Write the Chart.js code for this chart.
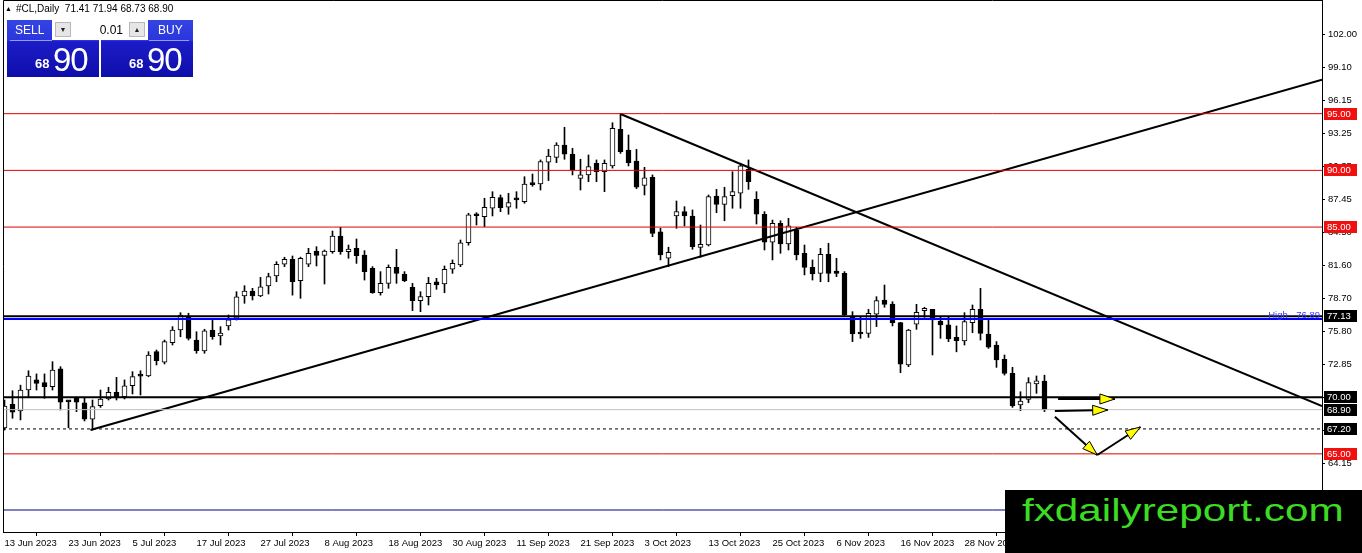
<!DOCTYPE html>
<html>
<head>
<meta charset="utf-8">
<script src="https://cdn.jsdelivr.net/npm/chart.js@4.4.1/dist/chart.umd.min.js"></script>
<style>
  body { margin: 0; background: #fff; font-family: "Liberation Sans", Arial, sans-serif; }
  #wrap { position: relative; width: 1362px; height: 553px; overflow: hidden; }
  #chart { position: absolute; left: 0; top: 0; }
  .hdr { position: absolute; left: 5px; top: 3px; font-size: 10px; color: #000; white-space: nowrap; }
  .hdr .tri { font-size: 7px; margin-right: 4px; vertical-align: 1px; }
  .btn { position: absolute; top: 20px; height: 57px; width: 92px; color: #fff;
         background: linear-gradient(#3444e4 0, #2a36dc 36%, #1c1cc8 38%, #0e0eaa 100%); }
  .btn .cap { position: absolute; top: 3px; font-size: 12px; }
  .btn .line { position: absolute; top: 20px; height: 1px; background: rgba(190,200,255,.7); }
  .btn .sm { position: absolute; top: 36px; font-size: 13px; font-weight: bold; }
  .btn .big { position: absolute; top: 21px; font-size: 33px; letter-spacing: -1px; }
  .lot { position: absolute; left: 52px; top: 20px; width: 96px; height: 20px; background: #fff; }
  .lot .arr { position: absolute; top: 2px; width: 16px; height: 15px; background: #e6e6e6;
              border: 1px solid #b8b8b8; box-sizing: border-box; font-size: 7px; text-align: center; line-height: 13px; color: #222; }
  .lot .val { position: absolute; right: 25px; top: 3px; font-size: 12px; color: #000; }
  .wm { position: absolute; left: 1005px; top: 490px; width: 357px; height: 63px; background: #000; }
  .wm span { position: absolute; left: 17px; top: 2px; font-size: 32px; color: #3ddc24;
             transform: scaleX(1.32); transform-origin: 0 0; white-space: nowrap; }
</style>
</head>
<body>
<div id="wrap">
  <canvas id="chart" width="1362" height="553"></canvas>
  <div class="hdr"><span class="tri">&#9650;</span>#CL,Daily&nbsp;&nbsp;71.41 71.94 68.73 68.90</div>
  <div class="btn" style="left:7px">
    <div class="cap" style="left:8px">SELL</div>
    <div class="line" style="left:3px;width:42px"></div>
    <div class="sm" style="left:28px">68</div>
    <div class="big" style="left:46px">90</div>
  </div>
  <div class="btn" style="left:101px">
    <div class="cap" style="left:57px">BUY</div>
    <div class="line" style="left:48px;width:40px"></div>
    <div class="sm" style="left:28px">68</div>
    <div class="big" style="left:46px">90</div>
  </div>
  <div class="lot">
    <div class="arr" style="left:3px">&#9660;</div>
    <div class="val">0.01</div>
    <div class="arr" style="right:3px">&#9650;</div>
  </div>
  <div class="wm"><span>fxdailyreport.com</span></div>
</div>
<script>
// daily candles, bar index 0 = 13 Jun 2023
const opens = [67.28, 69.37, 68.78, 70.63, 71.52, 71.28, 70.93, 72.49, 69.62, 69.99,
  69.51, 68.05, 69.25, 69.84, 70.43, 70.04, 71.01, 71.90, 71.87, 74.01,
  73.08, 74.80, 75.92, 77.16, 75.04, 74.07, 75.92, 75.40, 76.28, 76.96,
  78.92, 79.36, 78.92, 79.80, 80.69, 81.72, 82.16, 80.28, 81.72, 82.89,
  82.51, 82.83, 84.21, 82.83, 83.13, 82.54, 81.37, 79.21, 80.04, 81.45,
  80.86, 79.69, 78.51, 78.86, 80.18, 79.98, 81.28, 81.66, 83.62, 86.10,
  85.92, 86.66, 87.60, 86.75, 87.50, 87.24, 88.86, 88.80, 90.72, 91.15,
  92.24, 91.44, 89.30, 89.60, 90.63, 89.88, 90.39, 93.62, 91.80, 90.83,
  88.68, 89.39, 84.59, 82.25, 85.98, 86.36, 85.98, 83.21, 83.42, 87.74,
  87.00, 87.77, 87.98, 90.10, 87.45, 86.13, 83.66, 85.33, 83.51, 84.74,
  82.69, 81.45, 80.92, 82.60, 81.13, 80.92, 77.10, 75.70, 75.63, 77.31,
  78.57, 78.22, 76.57, 72.84, 76.43, 77.63, 77.75, 76.72, 76.37, 75.28,
  74.95, 76.57, 77.75, 75.57, 74.60, 73.34, 72.10, 69.31, 69.81, 71.16,
  71.41];
const highs = [69.75, 70.57, 71.06, 72.33, 72.05, 72.05, 73.13, 72.69, 69.70, 70.00,
  69.90, 69.75, 70.63, 70.87, 71.75, 71.52, 72.25, 72.33, 74.01, 74.16,
  75.04, 76.22, 77.45, 77.40, 75.77, 75.99, 76.81, 76.22, 77.25, 79.30,
  79.83, 79.60, 80.57, 80.93, 81.95, 82.34, 82.45, 82.35, 83.13, 83.27,
  82.98, 84.65, 84.98, 83.42, 83.95, 82.92, 81.51, 81.07, 81.66, 83.04,
  81.07, 80.04, 79.30, 80.57, 80.48, 81.57, 82.10, 83.86, 86.22, 86.27,
  87.54, 88.12, 87.83, 87.98, 88.12, 89.44, 89.68, 90.92, 91.86, 92.44,
  93.80, 91.95, 90.98, 91.36, 90.92, 90.92, 94.20, 95.03, 93.12, 91.86,
  90.27, 89.60, 84.89, 83.22, 87.30, 86.80, 86.51, 85.18, 87.83, 88.33,
  88.51, 89.88, 90.63, 90.92, 88.12, 86.36, 85.62, 85.56, 85.77, 84.98,
  83.42, 82.10, 83.13, 83.57, 82.25, 81.07, 77.54, 77.10, 77.75, 78.86,
  79.89, 78.42, 76.60, 75.98, 78.19, 77.93, 77.75, 77.10, 77.04, 76.28,
  77.45, 78.13, 79.60, 76.81, 74.90, 73.72, 72.63, 70.48, 71.72, 71.87,
  71.94];
const lows = [67.10, 68.14, 67.99, 70.04, 70.63, 69.90, 70.63, 68.87, 67.30, 68.72,
  67.90, 67.10, 69.10, 69.75, 69.75, 69.84, 70.28, 70.19, 71.80, 72.84,
  72.93, 74.60, 75.33, 75.04, 73.87, 73.87, 75.10, 74.60, 75.92, 76.80,
  78.28, 78.57, 78.86, 79.10, 80.18, 81.51, 79.00, 78.72, 81.51, 81.57,
  79.98, 82.69, 82.60, 82.25, 81.80, 80.33, 79.16, 79.00, 79.60, 80.04,
  80.18, 77.63, 77.54, 78.13, 79.51, 79.21, 80.92, 81.51, 83.40, 85.18,
  85.04, 85.98, 86.36, 86.13, 86.66, 87.10, 88.60, 88.27, 89.10, 90.68,
  90.98, 89.60, 88.27, 89.00, 89.00, 88.12, 90.20, 91.50, 90.39, 88.39,
  87.83, 84.15, 82.10, 81.51, 84.89, 85.10, 83.04, 82.34, 83.33, 86.27,
  85.56, 86.66, 86.66, 88.33, 85.27, 82.98, 82.10, 82.69, 82.98, 82.10,
  80.78, 80.33, 80.18, 80.18, 80.63, 77.10, 74.90, 75.19, 75.27, 76.22,
  77.93, 76.28, 72.16, 72.69, 75.98, 77.04, 73.72, 75.19, 74.90, 74.00,
  74.60, 75.69, 75.04, 74.31, 72.63, 71.95, 69.10, 68.81, 69.51, 70.34,
  68.73];
const closes = [69.22, 68.67, 70.63, 71.87, 71.22, 70.93, 72.40, 69.55, 69.58, 69.55,
  68.05, 69.16, 69.84, 70.43, 69.99, 71.01, 71.81, 71.85, 73.72, 73.22,
  74.90, 75.92, 77.25, 75.19, 74.10, 75.84, 75.33, 75.66, 76.81, 78.84,
  79.36, 78.92, 79.74, 80.63, 81.72, 82.16, 80.19, 82.25, 82.69, 82.51,
  82.89, 84.21, 82.83, 83.07, 82.48, 81.07, 79.21, 80.04, 81.45, 80.92,
  80.27, 78.51, 78.86, 80.04, 79.89, 81.28, 81.81, 83.62, 86.07, 86.00,
  86.75, 87.63, 86.71, 87.15, 87.40, 88.80, 88.74, 90.77, 91.27, 92.24,
  91.42, 90.03, 89.60, 90.33, 89.88, 90.63, 93.71, 91.65, 90.68, 88.51,
  89.35, 84.45, 82.54, 82.78, 86.36, 85.98, 83.27, 83.48, 87.68, 87.00,
  87.68, 88.12, 90.41, 89.00, 86.13, 83.66, 85.33, 83.51, 85.10, 82.54,
  81.45, 80.86, 82.60, 80.92, 80.92, 77.25, 75.57, 75.57, 77.40, 78.51,
  78.19, 76.57, 72.90, 75.92, 77.48, 77.84, 76.81, 76.37, 75.13, 74.98,
  76.66, 77.75, 75.63, 74.40, 73.28, 72.10, 69.22, 69.66, 71.28, 71.45,
  68.90];

// time axis labels (every 8th bar)
const dateTicks = [0, 8, 16, 24, 32, 40, 48, 56, 64, 72, 80, 88, 96, 104, 112, 120];
const dateLabels = ['13 Jun 2023', '23 Jun 2023', '5 Jul 2023', '17 Jul 2023', '27 Jul 2023',
  '8 Aug 2023', '18 Aug 2023', '30 Aug 2023', '11 Sep 2023', '21 Sep 2023', '3 Oct 2023',
  '13 Oct 2023', '25 Oct 2023', '6 Nov 2023', '16 Nov 2023', '28 Nov 2023'];

// price axis
const priceTicks = [102.00, 99.10, 96.15, 93.25, 90.35, 87.45, 84.50, 81.60, 78.70, 75.80,
  72.85, 69.95, 67.05, 64.15, 61.25];

// drawn levels
const redLevels = [95.00, 90.00, 85.00, 65.00];
const blackLevels = [77.13, 70.00];
const blueLevel = 76.89;
const bidLevel = 68.90;
const dashedLevel = 67.20;
const navyLevel = 60.05;
const priceTags = [95.00, 90.00, 85.00, 77.13, 70.00, 68.90, 67.20, 65.00];

// trend lines [barIndex, price]
const risingLine = [[10.75, 67.11], [164.69, 98.00]];
const fallingLine = [[77, 94.97], [164.69, 69.22]];

// scenario arrows [barIndex, price]
const arrows = [
  [[131.7, 69.84], [138.8, 69.84]],
  [[131.3, 68.78], [137.9, 68.87]],
  [[131.3, 68.28], [136.6, 64.90]],
  [[136.6, 64.90], [142.0, 67.37]]
];

const XMIN = -0.1875, XMAX = 164.69;
const YMIN = 58.11, YMAX = 105.025;
const FONT = '"Liberation Sans", Arial, sans-serif';
const RED = '#e00000';

const bars = opens.map((_, i) => i);
const seg = (pts) => pts.map(p => ({ x: p[0], y: p[1] }));
const hLine = (price, color, width, dash) => ({
  type: 'line', data: seg([[XMIN, price], [XMAX, price]]), borderColor: color,
  borderWidth: width, borderDash: dash || [], pointRadius: 0, order: 1
});

const datasets = [
  {
    type: 'bar', label: 'wick', order: 11, grouped: false,
    data: bars.map(i => ({ x: i, y: [lows[i], highs[i]] })),
    backgroundColor: '#000', borderWidth: 0, barThickness: 1
  },
  {
    type: 'bar', label: 'body', order: 10, grouped: false,
    data: bars.map(i => ({ x: i, y: [opens[i], closes[i]] })),
    backgroundColor: bars.map(i => closes[i] >= opens[i] ? '#fff' : '#000'),
    borderColor: '#000', borderWidth: 1, borderSkipped: false, barThickness: 5, minBarLength: 2
  },
  ...redLevels.map(p => hLine(p, RED, 1)),
  hLine(navyLevel, '#000080', 1),
  hLine(bidLevel, '#c0c0c0', 1),
  hLine(dashedLevel, '#000', 1, [3, 3]),
  hLine(blueLevel, '#0000ff', 2),
  ...blackLevels.map(p => hLine(p, '#000', 2)),
  { type: 'line', data: seg(risingLine), borderColor: '#000', borderWidth: 2, pointRadius: 0, order: 1 },
  { type: 'line', data: seg(fallingLine), borderColor: '#000', borderWidth: 2, pointRadius: 0, order: 1 },
  ...arrows.map(a => ({ type: 'line', data: seg(a), borderColor: '#000', borderWidth: 2, pointRadius: 0, order: 0 }))
];

const extras = {
  id: 'extras',
  afterDatasetsDraw(chart) {
    const { ctx, chartArea: ca, scales: { x, y } } = chart;
    ctx.save();
    // frame left / top
    ctx.strokeStyle = '#000';
    ctx.lineWidth = 1;
    ctx.beginPath();
    ctx.moveTo(ca.left + 0.5, ca.bottom);
    ctx.lineTo(ca.left + 0.5, ca.top + 0.5);
    ctx.lineTo(ca.right, ca.top + 0.5);
    ctx.stroke();

    // arrow heads
    arrows.forEach(a => {
      const x0 = x.getPixelForValue(a[0][0]), y0 = y.getPixelForValue(a[0][1]);
      const x1 = x.getPixelForValue(a[1][0]), y1 = y.getPixelForValue(a[1][1]);
      const ang = Math.atan2(y1 - y0, x1 - x0);
      const len = 15, hw = 5;
      const bx = x1 - len * Math.cos(ang), by = y1 - len * Math.sin(ang);
      ctx.beginPath();
      ctx.moveTo(x1, y1);
      ctx.lineTo(bx + hw * Math.sin(ang), by - hw * Math.cos(ang));
      ctx.lineTo(bx - hw * Math.sin(ang), by + hw * Math.cos(ang));
      ctx.closePath();
      ctx.fillStyle = '#ffff00';
      ctx.fill();
      ctx.strokeStyle = '#000';
      ctx.lineWidth = 1;
      ctx.stroke();
    });

    // high marker text
    ctx.font = '9.5px ' + FONT;
    ctx.fillStyle = '#3a3aff';
    ctx.textAlign = 'right';
    ctx.textBaseline = 'bottom';
    ctx.fillText('High - ' + blueLevel.toFixed(2), ca.right - 2, y.getPixelForValue(blueLevel) + 1);
    ctx.restore();
  },
  afterDraw(chart) {
    const { ctx, chartArea: ca, scales: { y } } = chart;
    ctx.save();
    ctx.font = '9.5px ' + FONT;
    ctx.textBaseline = 'middle';
    ctx.textAlign = 'left';
    priceTags.forEach(p => {
      const py = Math.round(y.getPixelForValue(p));
      ctx.fillStyle = redLevels.includes(p) ? '#f01010' : '#000';
      ctx.fillRect(ca.right + 2, py - 6, 33, 12);
      ctx.fillStyle = '#fff';
      ctx.fillText(p.toFixed(2), ca.right + 5, py + 0.5);
    });
    ctx.restore();
  }
};

new Chart(document.getElementById('chart'), {
  type: 'bar',
  data: { datasets },
  options: {
    responsive: false,
    animation: false,
    events: [],
    layout: { padding: { left: 3, top: 0, right: 0, bottom: 0 } },
    plugins: { legend: { display: false }, tooltip: { enabled: false } },
    scales: {
      x: {
        type: 'linear', position: 'bottom', min: XMIN, max: XMAX, offset: false,
        afterBuildTicks: s => { s.ticks = dateTicks.map(v => ({ value: v })); },
        afterFit: s => { s.height = 21; s.paddingLeft = 0; s.paddingRight = 0; },
        ticks: {
          autoSkip: false, maxRotation: 0, align: 'start', padding: 2, color: '#000',
          font: { family: FONT, size: 9.5 },
          callback: v => dateLabels[dateTicks.indexOf(v)]
        },
        grid: { drawOnChartArea: false, drawTicks: true, tickLength: 4, color: '#000' },
        border: { display: true, color: '#000', width: 1 }
      },
      y: {
        type: 'linear', position: 'right', min: YMIN, max: YMAX,
        afterBuildTicks: s => { s.ticks = priceTicks.map(v => ({ value: v })); },
        afterFit: s => { s.width = 40; s.paddingTop = 0; s.paddingBottom = 0; },
        ticks: {
          padding: 3, color: '#000', font: { family: FONT, size: 9.5 },
          callback: v => v.toFixed(2)
        },
        grid: { drawOnChartArea: false, drawTicks: true, tickLength: 3, color: '#000' },
        border: { display: true, color: '#000', width: 1 }
      }
    }
  },
  plugins: [extras]
});
</script>
</body>
</html>
